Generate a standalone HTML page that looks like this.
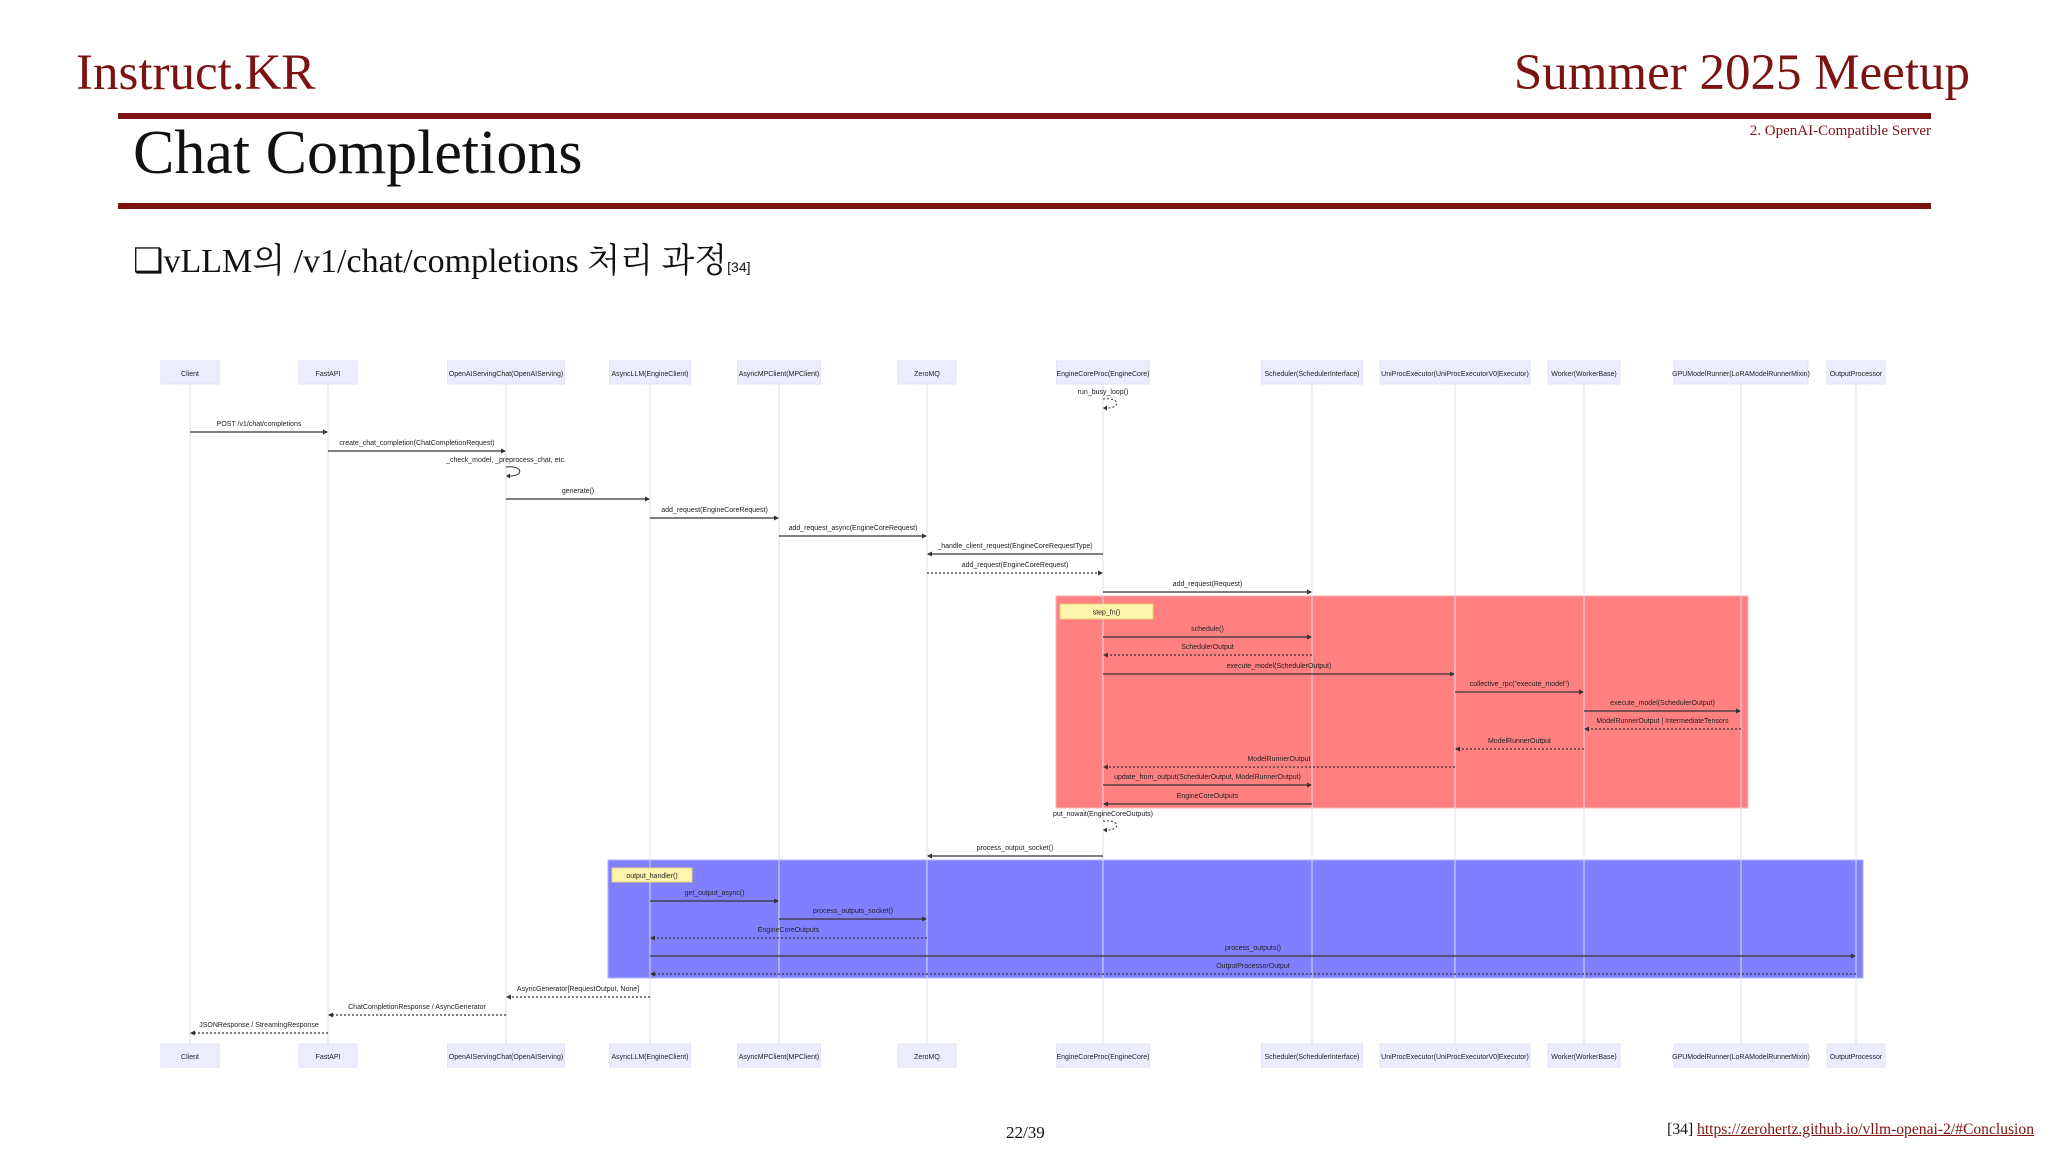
<!DOCTYPE html>
<html><head><meta charset="utf-8">
<style>
html,body{margin:0;padding:0;background:#fff;}
body{width:2048px;height:1152px;position:relative;overflow:hidden;font-family:"Liberation Serif","Noto Serif CJK SC",serif;}
.abs{position:absolute;white-space:nowrap;}
</style></head>
<body>
<div class="abs" style="left:76px;top:44px;font-size:51px;color:#7d1212;">Instruct.KR</div>
<div class="abs" style="right:78px;top:44px;font-size:51px;color:#7d1212;">Summer 2025 Meetup</div>
<div class="abs" style="left:118px;top:113px;width:1813px;height:6px;background:#7d1212;"></div>
<div class="abs" style="right:117px;top:123px;font-size:15px;color:#7d1212;">2. OpenAI-Compatible Server</div>
<div class="abs" style="left:133px;top:118px;font-size:62px;color:#111;">Chat Completions</div>
<div class="abs" style="left:118px;top:203px;width:1813px;height:6px;background:#7d1212;"></div>
<div class="abs" style="left:133px;top:233px;font-size:34px;color:#111;font-family:'Liberation Serif','Noto Serif CJK SC',serif;">❑vLLM의 /v1/chat/completions 처리 과정<span style="font-size:14px;font-family:'Liberation Sans',sans-serif;">[34]</span></div>

<svg class="abs" style="left:0;top:0;" width="2048" height="1152" id="diag"></svg>

<div class="abs" style="left:1006px;top:1123px;font-size:17px;color:#111;">22/39</div>
<div class="abs" style="right:14px;top:1121px;font-size:15.6px;color:#111;">[34] <a style="color:#7d1212;text-decoration:underline;">https://zerohertz.github.io/vllm-openai-2/#Conclusion</a></div>

<script>
const participants=["Client","FastAPI","OpenAIServingChat(OpenAIServing)","AsyncLLM(EngineClient)","AsyncMPClient(MPClient)","ZeroMQ","EngineCoreProc(EngineCore)","Scheduler(SchedulerInterface)","UniProcExecutor(UniProcExecutorV0|Executor)","Worker(WorkerBase)","GPUModelRunner(LoRAModelRunnerMixin)","OutputProcessor"];
const lifeX=[190,328,506,650,779,927,1103,1312,1455,1584,1741,1856];
const boxW=[58,58,117,81,83,58,93,101,150,72,134,58];
const msgFrom=[6,0,1,2,2,3,4,6,5,6,6,7,6,8,9,10,9,8,6,7,6,6,3,4,5,3,11,3,2,1];
const msgTo  =[6,1,2,2,3,4,5,5,6,7,7,6,8,9,10,9,8,6,7,6,6,5,4,5,3,11,3,2,1,0];
const msgY   =[404,432,451,472,499,518,536,554,573,592,637,655,674,692,711,729,749,767,785,804,826,856,901,919,938,956,974,997,1015,1033];
const msgLabel=["run_busy_loop()","POST /v1/chat/completions","create_chat_completion(ChatCompletionRequest)","_check_model, _preprocess_chat, etc.","generate()","add_request(EngineCoreRequest)","add_request_async(EngineCoreRequest)","_handle_client_request(EngineCoreRequestType)","add_request(EngineCoreRequest)","add_request(Request)","schedule()","SchedulerOutput","execute_model(SchedulerOutput)","collective_rpc(\"execute_model\")","execute_model(SchedulerOutput)","ModelRunnerOutput | IntermediateTensors","ModelRunnerOutput","ModelRunnerOutput","update_from_output(SchedulerOutput, ModelRunnerOutput)","EngineCoreOutputs","put_nowait(EngineCoreOutputs)","process_output_socket()","get_output_async()","process_outputs_socket()","EngineCoreOutputs","process_outputs()","OutputProcessorOutput","AsyncGenerator[RequestOutput, None]","ChatCompletionResponse / AsyncGenerator","JSONResponse / StreamingResponse"];
const msgDashed=[1,0,0,0,0,0,0,0,1,0,0,1,0,0,0,1,1,1,0,0,1,0,0,0,1,0,1,1,1,1];

const NS="http://www.w3.org/2000/svg";
const svg=document.getElementById('diag');
function el(t,a){const e=document.createElementNS(NS,t);for(const k in a)e.setAttribute(k,a[k]);svg.appendChild(e);return e;}
let e;
e=el('rect',{x:1056,y:596,width:692,height:212,fill:'#ff8080',stroke:'#ffb0b0','stroke-width':1});


e=el('rect',{x:608,y:860,width:1255,height:118,fill:'#8080ff',stroke:'#b0b0ff','stroke-width':1});


participants.forEach((p,i)=>{
  const x=lifeX[i];
  e=el('line',{x1:x,y1:384,x2:x,y2:1044,stroke:'#dcdcf0','stroke-width':1});
  
  
  [361,1044].forEach(y=>{
    e=el('rect',{x:x-boxW[i]/2,y:y,width:boxW[i],height:23,fill:'#ececff',stroke:'#e2e2fa'});
    
    
    const t=el('text',{x:x,y:y+15,'text-anchor':'middle','font-size':7,'font-family':'Liberation Sans, sans-serif',fill:'#222'});
    t.textContent=p;
    
    
  });
});
[[1060,604,93,15,'step_fn()'],[612,868,80,14,'output_handler()']].forEach(n=>{
  e=el('rect',{x:n[0],y:n[1],width:n[2],height:n[3],fill:'#fff5ad',stroke:'#e6d280'});
  
  
  const t=el('text',{x:n[0]+n[2]/2,y:n[1]+n[3]/2+3,'text-anchor':'middle','font-size':7,'font-family':'Liberation Sans, sans-serif',fill:'#222'});
  t.textContent=n[4];
  
  
});
msgY.forEach((y,i)=>{
  const x1=lifeX[msgFrom[i]],x2=lifeX[msgTo[i]];
  const dash=msgDashed[i]?'2,2':'none';
  let t;
  if(x1===x2){
    const p=el('path',{d:`M${x1} ${y-5} C ${x1+18} ${y-7}, ${x1+18} ${y+5}, ${x1+2} ${y+4}`,fill:'none',stroke:'#333','stroke-width':1,'stroke-dasharray':dash});
    
    
    el('path',{d:`M${x1} ${y+4} l4 -2.5 l0 5 z`,fill:'#333'});
    t=el('text',{x:x1,y:y-10,'text-anchor':'middle','font-size':7,'font-family':'Liberation Sans, sans-serif',fill:'#222'});
  } else {
    const dir=x2>x1?1:-1;
    const l=el('line',{x1:x1,y1:y,x2:x2-dir*1,y2:y,stroke:'#333','stroke-width':1.2,'stroke-dasharray':dash});
    
    
    el('path',{d:`M${x2} ${y} l${-dir*5} -2.5 l0 5 z`,fill:'#333'});
    t=el('text',{x:(x1+x2)/2,y:y-6,'text-anchor':'middle','font-size':7,'font-family':'Liberation Sans, sans-serif',fill:'#222'});
  }
  t.textContent=msgLabel[i];
  
  
});
</script>
</body></html>
